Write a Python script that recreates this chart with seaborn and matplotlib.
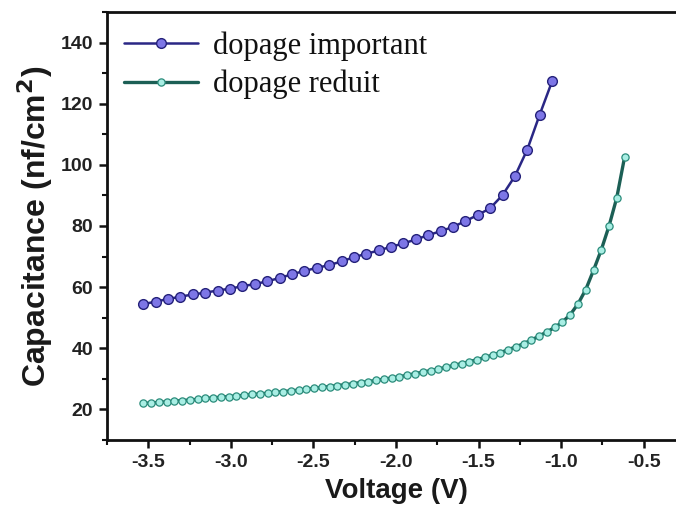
import matplotlib
matplotlib.use("Agg")
import matplotlib.pyplot as plt
from matplotlib.ticker import MultipleLocator
import seaborn as sns
import pandas as pd

# High doping: C-V sweep
volt_high = [-3.530, -3.455, -3.380, -3.305, -3.230, -3.155, -3.080, -3.005,
             -2.930, -2.855, -2.780, -2.705, -2.630, -2.555, -2.480, -2.405,
             -2.330, -2.255, -2.180, -2.105, -2.030, -1.955, -1.880, -1.805,
             -1.730, -1.655, -1.580, -1.505, -1.430, -1.355, -1.280, -1.205,
             -1.130, -1.055]
cap_high = [54.4, 55.3, 56.1, 56.9, 57.6, 58.2, 58.9, 59.5, 60.3, 61.0,
            61.9, 63.0, 64.2, 65.3, 66.3, 67.2, 68.4, 69.8, 70.9, 72.0,
            73.2, 74.3, 75.6, 77.0, 78.3, 79.7, 81.6, 83.6, 85.8, 90.1,
            96.3, 105.0, 116.4, 127.3]

# Low doping: C-V sweep
volt_low = [-3.530, -3.483, -3.436, -3.389, -3.342, -3.295, -3.248, -3.201,
            -3.154, -3.107, -3.060, -3.013, -2.966, -2.919, -2.872, -2.825,
            -2.778, -2.731, -2.684, -2.637, -2.590, -2.543, -2.496, -2.449,
            -2.402, -2.355, -2.308, -2.261, -2.214, -2.167, -2.120, -2.073,
            -2.026, -1.979, -1.932, -1.885, -1.838, -1.791, -1.744, -1.697,
            -1.650, -1.603, -1.556, -1.509, -1.462, -1.415, -1.368, -1.321,
            -1.274, -1.227, -1.180, -1.133, -1.086, -1.039, -0.992, -0.945,
            -0.898, -0.851, -0.804, -0.757, -0.710, -0.663, -0.616]
cap_low = [22.0, 22.1, 22.3, 22.5, 22.7, 22.9, 23.1, 23.3, 23.6, 23.8,
           24.0, 24.2, 24.4, 24.6, 24.9, 25.1, 25.3, 25.6, 25.8, 26.1,
           26.3, 26.6, 26.9, 27.2, 27.5, 27.8, 28.1, 28.4, 28.8, 29.1,
           29.5, 29.9, 30.3, 30.7, 31.2, 31.7, 32.2, 32.7, 33.2, 33.8,
           34.4, 35.0, 35.6, 36.3, 37.0, 37.8, 38.6, 39.5, 40.5, 41.5,
           42.7, 44.0, 45.4, 46.8, 48.6, 51.0, 54.5, 59.2, 65.5, 72.2,
           80.0, 89.3, 102.5]

labels = ["dopage important", "dopage reduit"]
x_ticks = [-3.5, -3.0, -2.5, -2.0, -1.5, -1.0, -0.5]
y_ticks = [20, 40, 60, 80, 100, 120, 140]

sns.set_theme(style="ticks")
plt.rcParams["font.family"] = ["Liberation Sans", "DejaVu Sans"]

fig = plt.figure(figsize=(6.76, 5.12), dpi=100)
ax = fig.add_axes([107 / 676, 72 / 512, 578 / 676, 428 / 512])

df_high = pd.DataFrame({"V": volt_high, "C": cap_high})
df_low = pd.DataFrame({"V": volt_low, "C": cap_low})

sns.lineplot(data=df_high, x="V", y="C", ax=ax, color="#2a2785", linewidth=1.8,
             marker="o", markersize=7, markerfacecolor="#7d76e6",
             markeredgecolor="#24217a", markeredgewidth=1.0, label=labels[0])
sns.lineplot(data=df_low, x="V", y="C", ax=ax, color="#1c5f55", linewidth=2.4,
             marker="o", markersize=5.2, markerfacecolor="#a9eee4",
             markeredgecolor="#2b8c7b", markeredgewidth=0.9, label=labels[1])

ax.set_xlim(-3.75, -0.25)
ax.set_ylim(10, 150)
ax.set_xticks(x_ticks)
ax.set_xticklabels([f"{t:.1f}" for t in x_ticks])
ax.set_yticks(y_ticks)
ax.xaxis.set_minor_locator(MultipleLocator(0.25))
ax.yaxis.set_minor_locator(MultipleLocator(10))

for side in ["left", "bottom", "top", "right"]:
    ax.spines[side].set_color("#111111")
    ax.spines[side].set_linewidth(2.0)

ax.tick_params(axis="both", which="major", direction="out", length=6, width=1.8,
               color="#111111", labelsize=14, pad=4)
ax.tick_params(axis="both", which="minor", direction="out", length=3.5, width=1.5,
               color="#111111")
for lab in ax.get_xticklabels() + ax.get_yticklabels():
    lab.set_fontweight("bold")
    lab.set_color("#222222")

ax.set_xlabel("Voltage (V)", fontsize=20, fontweight="bold", color="#1a1a1a", labelpad=5)
ax.set_ylabel(r"Capacitance (nf/cm$^\mathbf{2}$)", fontsize=23, fontweight="bold",
              color="#1a1a1a", labelpad=4)

leg = ax.legend(loc="upper left", bbox_to_anchor=(0.03, 0.955), frameon=False,
                prop={"family": "Liberation Serif", "size": 22},
                handlelength=2.4, handletextpad=0.5, labelspacing=0.3,
                borderpad=0, borderaxespad=0)
for t in leg.get_texts():
    t.set_color("#111111")

fig.savefig("out.png", dpi=100)
